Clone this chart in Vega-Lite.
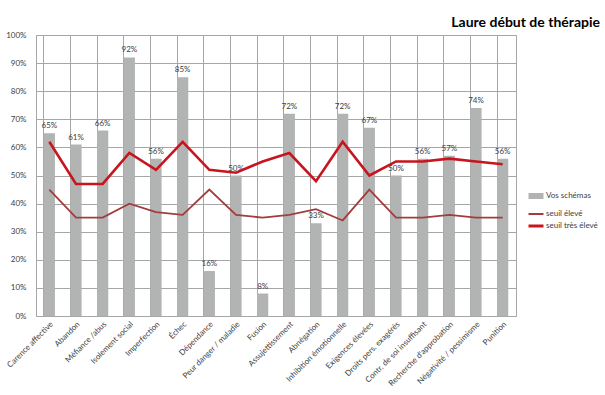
{
  "$schema": "https://vega.github.io/schema/vega-lite/v6.json",
  "autosize": "none",
  "width": 480,
  "height": 281,
  "padding": {"left": 36, "top": 35, "right": 89, "bottom": 79},
  "background": "white",
  "title": {
    "text": "Laure début de thérapie",
    "anchor": "end",
    "frame": "group",
    "orient": "top",
    "offset": 0,
    "dx": 84,
    "dy": 10,
    "baseline": "alphabetic",
    "font": "Lato",
    "fontSize": 14,
    "fontWeight": "bold",
    "color": "#000000"
  },
  "data": {
    "values": [
      {"schema": "Carence affective", "vos": 0.65, "eleve": 0.45, "tres": 0.62},
      {"schema": "Abandon", "vos": 0.61, "eleve": 0.35, "tres": 0.47},
      {"schema": "Méfiance /abus", "vos": 0.66, "eleve": 0.35, "tres": 0.47},
      {"schema": "Isolement social", "vos": 0.92, "eleve": 0.40, "tres": 0.58},
      {"schema": "Imperfection", "vos": 0.56, "eleve": 0.37, "tres": 0.52},
      {"schema": "Échec", "vos": 0.85, "eleve": 0.36, "tres": 0.62},
      {"schema": "Dépendance", "vos": 0.16, "eleve": 0.45, "tres": 0.52},
      {"schema": "Peur danger / maladie", "vos": 0.50, "eleve": 0.36, "tres": 0.51},
      {"schema": "Fusion", "vos": 0.08, "eleve": 0.35, "tres": 0.55},
      {"schema": "Assujettissement", "vos": 0.72, "eleve": 0.36, "tres": 0.58},
      {"schema": "Abnégation", "vos": 0.33, "eleve": 0.38, "tres": 0.48},
      {"schema": "Inhibition émotionnelle", "vos": 0.72, "eleve": 0.34, "tres": 0.62},
      {"schema": "Exigences élevées", "vos": 0.67, "eleve": 0.45, "tres": 0.50},
      {"schema": "Droits pers. exagérés", "vos": 0.50, "eleve": 0.35, "tres": 0.55},
      {"schema": "Contr. de soi insuffisant", "vos": 0.56, "eleve": 0.35, "tres": 0.55},
      {"schema": "Recherche d'approbation", "vos": 0.57, "eleve": 0.36, "tres": 0.56},
      {"schema": "Négativité / pessimisme", "vos": 0.74, "eleve": 0.35, "tres": 0.55},
      {"schema": "Punition", "vos": 0.56, "eleve": 0.35, "tres": 0.54}
    ]
  },
  "encoding": {
    "x": {
      "field": "schema",
      "type": "nominal",
      "sort": null,
      "title": null,
      "scale": {"paddingInner": 0.58, "paddingOuter": 0.29},
      "axis": {
        "labelAngle": -45,
        "labelFontSize": 8,
        "labelColor": "#404040",
        "labelFont": "Lato",
        "labelPadding": 4,
        "ticks": false,
        "domain": false,
        "grid": true,
        "gridColor": "#a6a6a6",
        "gridWidth": 1,
        "bandPosition": 0,
        "labelLimit": 200
      }
    }
  },
  "layer": [
    {
      "mark": {"type": "bar", "fill": "#b2b4b4"},
      "encoding": {
        "y": {
          "field": "vos",
          "type": "quantitative",
          "title": null,
          "scale": {"domain": [0, 1], "nice": false},
          "axis": {
            "values": [0, 0.1, 0.2, 0.3, 0.4, 0.5, 0.6, 0.7, 0.8, 0.9, 1],
            "format": ".0%",
            "labelOverlap": false,
            "labelFontSize": 8,
            "labelColor": "#404040",
            "labelFont": "Lato",
            "ticks": false,
            "domain": false,
            "grid": true,
            "gridColor": "#a6a6a6",
            "labelPadding": 10
          }
        },
        "color": {
          "datum": "Vos schémas",
          "type": "nominal",
          "scale": {
            "domain": ["Vos schémas", "seuil élevé", "seuil très élevé"],
            "range": ["#b2b4b4", "#a33c3c", "#c8141e"]
          },
          "legend": {
            "title": null,
            "orient": "none",
            "legendX": 496,
            "legendY": 157,
            "padding": 0,
            "symbolType": "stroke",
            "symbolSize": 225,
            "symbolStrokeWidth": 2,
            "labelFontSize": 8,
            "labelFont": "Lato",
            "labelColor": "#404040",
            "rowPadding": 2,
            "labelOffset": 6,
            "encode": {
              "symbols": {
                "update": {
                  "strokeWidth": {"signal": "datum.value === 'Vos schémas' ? 6 : datum.value === 'seuil élevé' ? 2 : 3"},
                  "stroke": {"signal": "datum.value === 'Vos schémas' ? '#b2b4b4' : datum.value === 'seuil élevé' ? '#a33c3c' : '#c8141e'"},
                  "opacity": {"value": 1}
                }
              }
            }
          }
        }
      }
    },
    {
      "mark": {"type": "text", "dy": -7, "fontSize": 8, "font": "Lato", "color": "#404040"},
      "encoding": {
        "y": {"field": "vos", "type": "quantitative", "title": null,
          "axis": {
            "values": [0, 0.1, 0.2, 0.3, 0.4, 0.5, 0.6, 0.7, 0.8, 0.9, 1],
            "format": ".0%",
            "labelOverlap": false,
            "labelFontSize": 8,
            "labelColor": "#404040",
            "labelFont": "Lato",
            "ticks": false,
            "domain": false,
            "grid": true,
            "gridColor": "#a6a6a6",
            "labelPadding": 10
          }},
        "text": {"field": "vos", "type": "quantitative", "format": ".0%"}
      }
    },
    {
      "mark": {"type": "line", "strokeWidth": 1.8},
      "encoding": {
        "y": {"field": "eleve", "type": "quantitative", "title": null,
          "axis": {
            "values": [0, 0.1, 0.2, 0.3, 0.4, 0.5, 0.6, 0.7, 0.8, 0.9, 1],
            "format": ".0%",
            "labelOverlap": false,
            "labelFontSize": 8,
            "labelColor": "#404040",
            "labelFont": "Lato",
            "ticks": false,
            "domain": false,
            "grid": true,
            "gridColor": "#a6a6a6",
            "labelPadding": 10
          }},
        "color": {"datum": "seuil élevé", "type": "nominal"}
      }
    },
    {
      "mark": {"type": "line", "strokeWidth": 2.6},
      "encoding": {
        "y": {"field": "tres", "type": "quantitative", "title": null,
          "axis": {
            "values": [0, 0.1, 0.2, 0.3, 0.4, 0.5, 0.6, 0.7, 0.8, 0.9, 1],
            "format": ".0%",
            "labelOverlap": false,
            "labelFontSize": 8,
            "labelColor": "#404040",
            "labelFont": "Lato",
            "ticks": false,
            "domain": false,
            "grid": true,
            "gridColor": "#a6a6a6",
            "labelPadding": 10
          }},
        "color": {"datum": "seuil très élevé", "type": "nominal"}
      }
    }
  ],
  "config": {
    "view": {"stroke": "#a6a6a6"},
    "axis": {"gridColor": "#a6a6a6"}
  }
}
